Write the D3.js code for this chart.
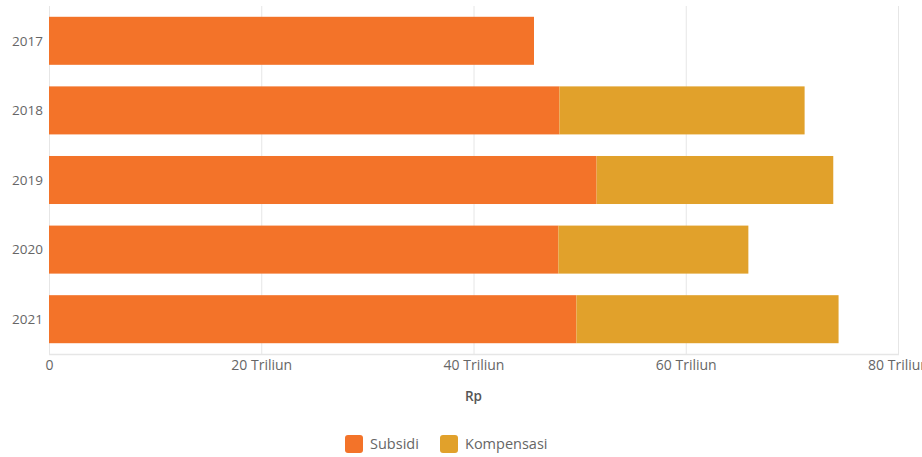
<!DOCTYPE html>
<html>
<head>
<meta charset="utf-8">
<script src="https://cdn.jsdelivr.net/npm/d3@7"></script>
<style>
  html, body { margin: 0; padding: 0; background: #fff; }
  svg { display: block; font-family: "Open Sans", "Noto Sans", sans-serif; }
</style>
</head>
<body>
<svg id="chart" width="922" height="457"></svg>
<script>
const years = ["2017", "2018", "2019", "2020", "2021"];
const subsidi = [45.7, 48.1, 51.6, 48.0, 49.7];
const kompensasi = [0, 23.1, 22.3, 17.9, 24.7];
const xTicks = [0, 20, 40, 60, 80];
const seriesNames = ["Subsidi", "Kompensasi"];
const seriesColors = ["#F37329", "#E1A12B"];

const svg = d3.select("#chart");
const mLeft = 49, mRight = 898, mTop = 6, mBottom = 354;

const x = d3.scaleLinear().domain([0, 80]).range([mLeft, mRight]);
const y = d3.scaleBand().domain(years).range([mTop, mBottom]).paddingInner(0.31).paddingOuter(0.155);

// gridlines
svg.append("g").selectAll("line").data(xTicks).join("line")
  .attr("x1", d => x(d) + 0.5).attr("x2", d => x(d) + 0.5)
  .attr("y1", mTop).attr("y2", mBottom)
  .attr("stroke", "#e6e6e6").attr("stroke-width", 1);

// baseline
svg.append("line").attr("x1", mLeft).attr("x2", mRight + 1)
  .attr("y1", mBottom + 0.5).attr("y2", mBottom + 0.5)
  .attr("stroke", "#e6e6e6").attr("stroke-width", 1.5);

const data = years.map((yr, i) => ({ yr, s: subsidi[i], k: kompensasi[i] }));

// bars
svg.append("g").selectAll("rect").data(data).join("rect")
  .attr("x", x(0)).attr("y", d => y(d.yr))
  .attr("width", d => x(d.s) - x(0)).attr("height", y.bandwidth())
  .attr("fill", seriesColors[0]);
svg.append("g").selectAll("rect").data(data.filter(d => d.k > 0)).join("rect")
  .attr("x", d => x(d.s)).attr("y", d => y(d.yr))
  .attr("width", d => x(d.s + d.k) - x(d.s)).attr("height", y.bandwidth())
  .attr("fill", seriesColors[1]);

// y axis labels
svg.append("g").selectAll("text").data(years).join("text")
  .attr("x", 43).attr("y", d => y(d) + y.bandwidth() / 2)
  .attr("dy", "0.35em").attr("text-anchor", "end")
  .attr("font-size", 13.5).attr("fill", "#666").text(d => d);

// x axis labels
const xAxis = d3.axisBottom(x).tickValues(xTicks)
  .tickFormat(d => d === 0 ? "0" : d + " Triliun").tickSize(0).tickPadding(6);
const gx = svg.append("g").attr("transform", `translate(0,${mBottom})`).call(xAxis);
gx.select(".domain").remove();
gx.selectAll("text").attr("font-size", 14).attr("fill", "#666")
  .attr("font-family", "'Open Sans', 'Noto Sans', sans-serif");

// axis title
svg.append("text").attr("x", (mLeft + mRight) / 2).attr("y", 401)
  .attr("text-anchor", "middle").attr("font-size", 13.5).attr("font-weight", 600)
  .attr("fill", "#555").text("Rp");

// legend
const legendX = [345, 440];
const lg = svg.append("g").selectAll("g").data(seriesNames).join("g")
  .attr("transform", (d, i) => `translate(${legendX[i]},435)`);
lg.append("rect").attr("width", 18).attr("height", 18).attr("rx", 3)
  .attr("fill", (d, i) => seriesColors[i]);
lg.append("text").attr("x", 25).attr("y", 9).attr("dy", "0.35em")
  .attr("font-size", 14.5).attr("fill", "#666").text(d => d);
</script>
</body>
</html>
